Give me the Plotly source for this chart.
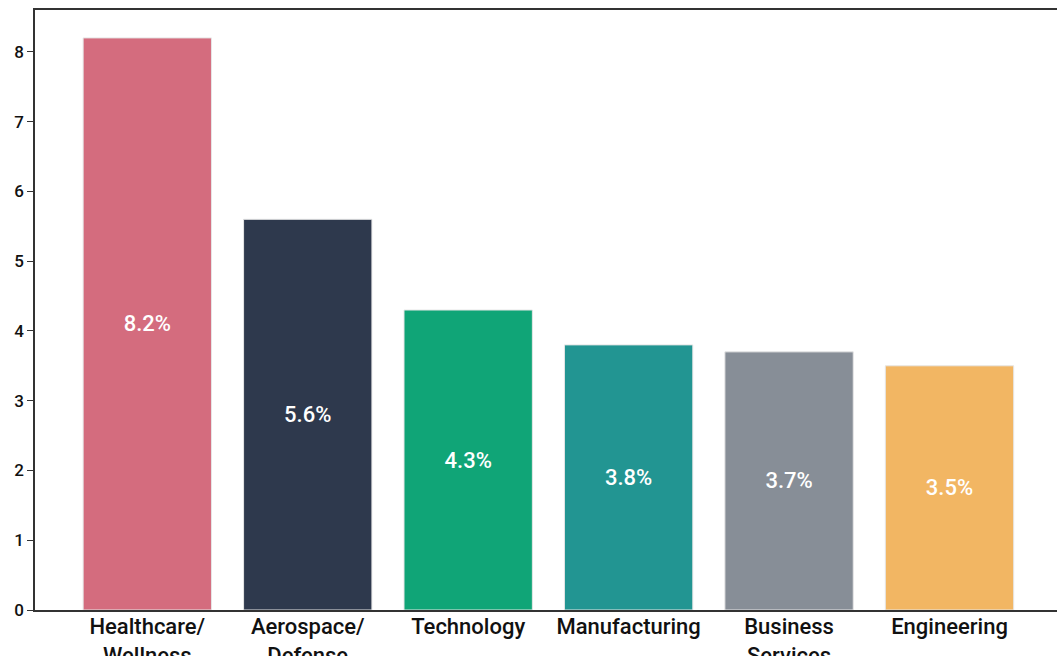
import plotly.graph_objects as go

# Projected job growth by industry (percent)
industries = ["Healthcare/<br>Wellness", "Aerospace/<br>Defense", "Technology",
              "Manufacturing", "Business<br>Services", "Engineering"]
growth = [8.2, 5.6, 4.3, 3.8, 3.7, 3.5]
bar_colors = ["#D46C7E", "#2E394D", "#10A577", "#229592", "#878E97", "#F2B663"]
y_ticks = [0, 1, 2, 3, 4, 5, 6, 7, 8]

positions = list(range(len(industries)))

fig = go.Figure(
    go.Bar(
        x=positions,
        y=growth,
        marker=dict(color=bar_colors, line=dict(color="#e6e6e6", width=1)),
        text=[f"{v:.1f}%" for v in growth],
        textposition="inside",
        insidetextanchor="middle",
        textangle=0,
        textfont=dict(family="Roboto", size=22, color="white", weight=500),
        width=0.8,
        hoverinfo="skip",
    )
)

fig.update_layout(
    width=1057,
    height=656,
    margin=dict(l=35, r=0, t=10, b=46, autoexpand=False),
    paper_bgcolor="white",
    plot_bgcolor="white",
    showlegend=False,
    font=dict(family="Roboto", color="#111111"),
)

fig.update_xaxes(
    range=[-0.7, 5.67],
    tickmode="array",
    tickvals=positions,
    ticktext=industries,
    ticks="",
    ticklabelstandoff=-4,
    showgrid=False,
    zeroline=False,
    showline=True,
    mirror=True,
    linecolor="#333333",
    linewidth=1.5,
    automargin=False,
    tickfont=dict(family="Roboto", size=22, color="#111111", weight=500),
)

fig.update_yaxes(
    range=[0, 8.6],
    tickmode="array",
    tickvals=y_ticks,
    ticks="outside",
    ticklen=6,
    tickwidth=1.2,
    tickcolor="#333333",
    showgrid=False,
    zeroline=False,
    showline=True,
    linecolor="#333333",
    linewidth=1.5,
    automargin=False,
    tickfont=dict(family="Roboto", size=17, color="#111111", weight=500),
)

fig.write_html("out.html")
